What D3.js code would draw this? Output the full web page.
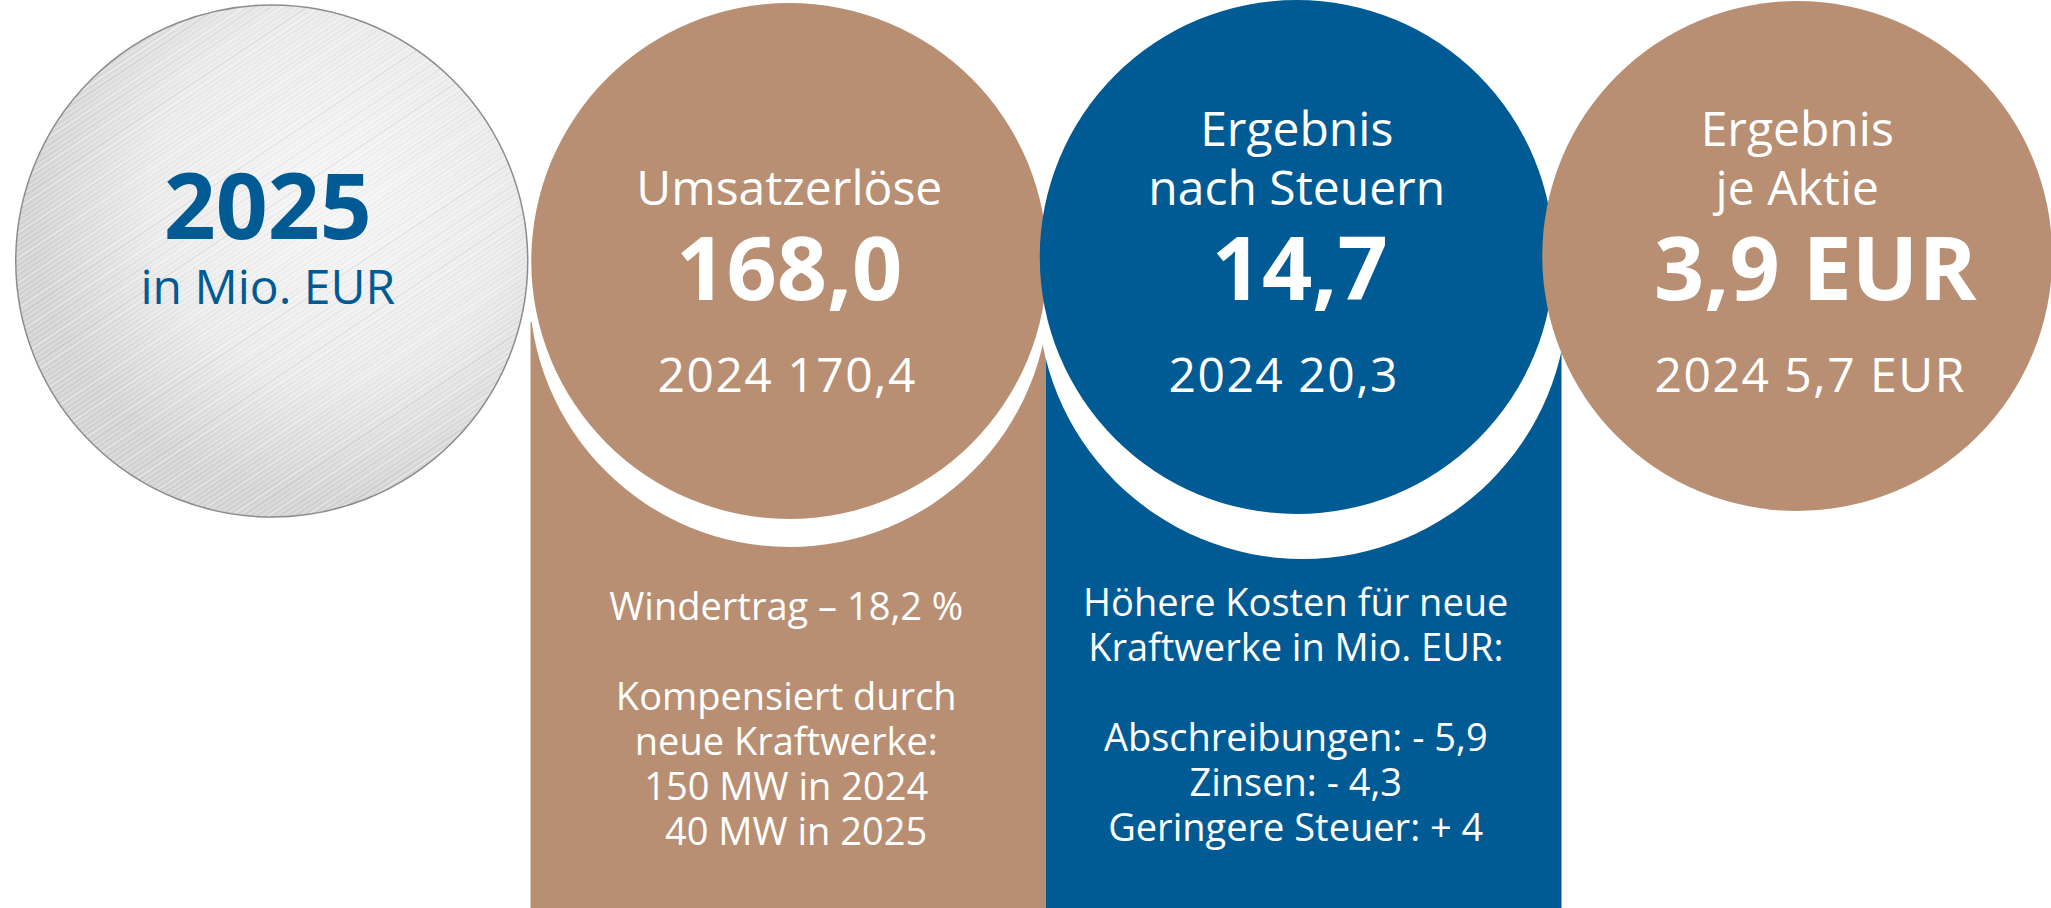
<!DOCTYPE html>
<html>
<head>
<meta charset="utf-8">
<script src="https://cdn.jsdelivr.net/npm/d3@7"></script>
<style>
  html, body { margin: 0; padding: 0; background: #fff; }
  svg { display: block; }
  text { font-family: "Open Sans", "Noto Sans", sans-serif; }
</style>
</head>
<body>
<svg id="chart"></svg>
<script>
const width = 2051;
const height = 908;

// columns of the infographic
const columns = ["jahr", "umsatz", "ergebnis", "aktie"];
const yearLabels = ["2025", "in Mio. EUR"];
const kpiTitles = [["Umsatzerlöse"], ["Ergebnis", "nach Steuern"], ["Ergebnis", "je Aktie"]];
const kpiCurrent = ["168,0", "14,7", "3,9 EUR"];
const kpiPrevious = ["2024 170,4", "2024 20,3", "2024 5,7 EUR"];
const revenueNotes = ["Windertrag – 18,2 %", "", "Kompensiert durch", "neue Kraftwerke:", "150 MW in 2024", "\u00a0\u00a040 MW in 2025"];
const profitNotes = ["Höhere Kosten für neue", "Kraftwerke in Mio. EUR:", "", "Abschreibungen: - 5,9", "Zinsen: - 4,3", "Geringere Steuer: + 4"];

// layout / styling
const brown = "#b88f72";
const blue = "#005b94";
const circleFill = ["url(#silver)", brown, blue, brown];
const centerNudge = [-1, 1, -7, -22];
const circleY = [261, 261, 257, 256];
const circleR = [256, 258, 257, 255];
const valueNudge = [0, 3, 18];
const prevNudge = [-2, -13, 13];

const svg = d3.select("#chart").attr("width", width).attr("height", height);

const x = d3.scaleBand().domain(columns).range([15, 2077]);
const cx = (k, i) => x(k) + x.bandwidth() / 2 + centerNudge[i];

// silver disc: gradient plus brushed streaks
const defs = svg.append("defs");
const grad = defs.append("radialGradient").attr("id", "silverGrad")
  .attr("cx", "330").attr("cy", "200").attr("r", "300")
  .attr("gradientUnits", "userSpaceOnUse");
grad.append("stop").attr("offset", "0%").attr("stop-color", "#f7f7f7");
grad.append("stop").attr("offset", "60%").attr("stop-color", "#ececec");
grad.append("stop").attr("offset", "100%").attr("stop-color", "#d4d4d4");

const pat = defs.append("pattern").attr("id", "silver")
  .attr("patternUnits", "userSpaceOnUse")
  .attr("width", 600).attr("height", 600);
pat.append("rect").attr("width", 600).attr("height", 600).attr("fill", "url(#silverGrad)");
const streaks = d3.range(0, 1500, 2.5);
pat.selectAll("line").data(streaks).enter().append("line")
  .attr("x1", d => d - 900).attr("y1", 600)
  .attr("x2", d => d).attr("y2", 0)
  .attr("stroke", (d, i) => i % 3 === 0 ? "#ffffff" : "#a8a8a8")
  .attr("stroke-opacity", (d, i) => i % 3 === 0 ? 0.5 : (i % 7 === 1 ? 0.22 : 0.08))
  .attr("stroke-width", (d, i) => i % 5 === 2 ? 1.3 : 0.8);

// bars under the middle two circles
const barCols = columns.slice(1, 3);
svg.selectAll(".bar").data(barCols).enter().append("rect")
  .attr("class", "bar")
  .attr("x", d => x(d))
  .attr("y", 322)
  .attr("width", x.bandwidth())
  .attr("height", height - 322)
  .attr("fill", (d, i) => circleFill[i + 1]);

// white halo below the circles
const haloShift = [{ dx: 0, dy: 26, dr: 2 }, { dx: 6, dy: 37, dr: 8 }];
svg.selectAll(".halo").data(barCols).enter().append("circle")
  .attr("class", "halo")
  .attr("cx", (d, i) => cx(d, i + 1) + haloShift[i].dx)
  .attr("cy", (d, i) => circleY[i + 1] + haloShift[i].dy)
  .attr("r", (d, i) => circleR[i + 1] + haloShift[i].dr)
  .attr("fill", "#fff");

// circles
svg.selectAll(".disc").data(columns).enter().append("circle")
  .attr("class", "disc")
  .attr("cx", (d, i) => cx(d, i))
  .attr("cy", (d, i) => circleY[i])
  .attr("r", (d, i) => circleR[i])
  .attr("fill", (d, i) => circleFill[i])
  .attr("stroke", (d, i) => i === 0 ? "#8c8c8c" : "none")
  .attr("stroke-width", 1.5);

// year disc text
svg.append("text")
  .attr("x", cx(columns[0], 0) - 4).attr("y", 239)
  .attr("text-anchor", "middle").attr("fill", blue)
  .attr("font-size", 91).attr("font-weight", 700)
  .text(yearLabels[0]);
svg.append("text")
  .attr("x", cx(columns[0], 0) - 4).attr("y", 304)
  .attr("text-anchor", "middle").attr("fill", blue)
  .attr("font-size", 48)
  .text(yearLabels[1]);

// KPI circles text
const kpiCols = columns.slice(1);
kpiCols.forEach((k, i) => {
  const c = cx(k, i + 1);
  const g = svg.append("g").attr("fill", "#fff").attr("text-anchor", "middle");
  const lines = kpiTitles[i];
  g.selectAll(".title").data(lines).enter().append("text")
    .attr("class", "title")
    .attr("x", c)
    .attr("y", (d, j) => 205 - (lines.length - 1 - j) * 59)
    .attr("font-size", 48)
    .text(d => d);
  g.append("text")
    .attr("x", c + valueNudge[i]).attr("y", 300)
    .attr("font-size", 88).attr("font-weight", 700)
    .text(kpiCurrent[i]);
  g.append("text")
    .attr("x", c + prevNudge[i]).attr("y", 392)
    .attr("font-size", 48).attr("letter-spacing", 1.5)
    .text(kpiPrevious[i]);
});

// notes inside the bars
const notes = [
  { lines: revenueNotes, col: columns[1], top: 620, nudge: -2 },
  { lines: profitNotes, col: columns[2], top: 616, nudge: -8 }
];
notes.forEach(n => {
  svg.append("g").attr("fill", "#fff").attr("text-anchor", "middle")
    .selectAll("text").data(n.lines).enter().append("text")
    .attr("x", x(n.col) + x.bandwidth() / 2 + n.nudge)
    .attr("y", (d, j) => n.top + j * 45)
    .attr("font-size", 38)
    .text(d => d);
});
</script>
</body>
</html>
